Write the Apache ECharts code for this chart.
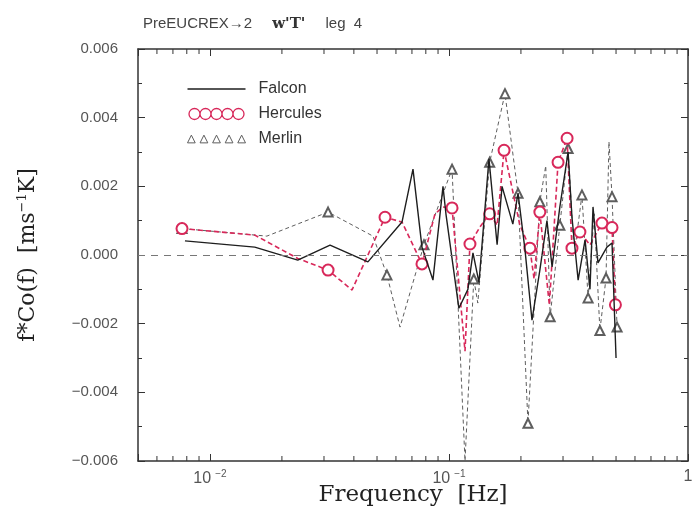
<!DOCTYPE html>
<html>
<head>
<meta charset="utf-8">
<script src="https://cdn.jsdelivr.net/npm/echarts@6/dist/echarts.min.js"></script>
<style>
  html, body { margin: 0; padding: 0; background: #fff; }
  #chart { width: 698px; height: 510px; }
</style>
</head>
<body>
<div id="chart"></div>
<script>
// Falcon (solid black)
const falconF = [0.00786, 0.0154, 0.0233, 0.0318, 0.0458, 0.0636, 0.0707, 0.0771, 0.0857, 0.0944,
  0.0971, 0.110, 0.120, 0.126, 0.1335, 0.147, 0.159, 0.1667, 0.185, 0.1945,
  0.208, 0.2225, 0.240, 0.257, 0.270, 0.291, 0.315, 0.327, 0.347, 0.371,
  0.389, 0.4005, 0.420, 0.458, 0.481, 0.500];
const falconV = [0.00041, 0.00023, -0.00015, 0.00029, -0.0002, 0.00096, 0.0025, 0.00023, -0.00073, 0.002,
  0.0012, -0.00155, -0.001, 0.00006, -0.0008, 0.0028, 0.0003, 0.002, 0.0009, 0.0018,
  0.00015, -0.0019, -0.00044, 0.001, -0.00035, 0.0014, 0.003, 0.0011, -0.00073, 0.00044,
  -0.001, 0.0014, -0.00023, 0.00023, 0.00035, -0.003];

// Hercules (red dashed, circles)
const herculesF = [0.00764, 0.0154, 0.0233, 0.0312, 0.0393, 0.054, 0.0636, 0.0771, 0.0874, 0.0944,
  0.103, 0.1167, 0.1224, 0.1349, 0.148, 0.159, 0.170, 0.198, 0.218, 0.227,
  0.240, 0.263, 0.286, 0.312, 0.327, 0.353, 0.389, 0.4365, 0.481, 0.497];
const herculesV = [0.00077, 0.00058, -0.0001, -0.00044, -0.00102, 0.0011, 0.00096, -0.00026, 0.0012, 0.0014,
  0.00137, -0.0028, 0.00032, 0.00082, 0.0012, 0.00087, 0.00305, 0.00087, 0.0002, -0.0007,
  0.00125, -0.00146, 0.0027, 0.0034, 0.0002, 0.00067, 0.00029, 0.00093, 0.0008, -0.00145];
const herculesMark = [1, 0, 0, 1, 0, 1, 0, 1, 0, 0,
  1, 0, 1, 0, 1, 0, 1, 0, 1, 0,
  1, 0, 1, 1, 1, 1, 0, 1, 1, 1];

// Merlin (gray dashed, triangles)
const merlinF = [0.00764, 0.0173, 0.0312, 0.0481, 0.055, 0.0624, 0.0786, 0.103, 0.1167, 0.127,
  0.132, 0.148, 0.1715, 0.1945, 0.214, 0.240, 0.254, 0.265, 0.291, 0.315,
  0.334, 0.36, 0.382, 0.405, 0.428, 0.454, 0.467, 0.481, 0.505];
const merlinV = [0.00077, 0.00055, 0.00125, 0.00055, -0.00058, -0.0021, 0.0003, 0.0025, -0.006, -0.0007,
  -0.0014, 0.0027, 0.0047, 0.0018, -0.0049, 0.00155, 0.0026, -0.0018, 0.00087, 0.0031,
  0.0, 0.00175, -0.00125, 0.0012, -0.0022, -0.00067, 0.0033, 0.0017, -0.0021];
const merlinMark = [1, 0, 1, 0, 1, 0, 1, 1, 0, 1,
  0, 1, 1, 1, 1, 1, 0, 1, 1, 1,
  0, 1, 1, 0, 1, 1, 0, 1, 1];

const xMin = 0.005;
const xMax = 1;
const yMin = -0.006;
const yMax = 0.006;

const RED = '#d8285a';
const GRAY = '#5e5e5e';
const BLACK = '#1e1e1e';
const AXIS = '#333';
const SANS = '"Liberation Sans", Arial, sans-serif';
const SERIF = '"DejaVu Serif", serif';

// minor tick values for the log axis (2..9 in each decade)
const minorTicks = [];
for (let e = -3; e <= 0; e++) {
  for (let k = 2; k <= 9; k++) {
    const v = k * Math.pow(10, e);
    if (v > xMin && v < xMax) minorTicks.push([v, 0]);
  }
}

const pairs = (fs, vs) => fs.map((f, i) => [f, vs[i]]);
const marked = (fs, vs, ms) => fs.map((f, i) => (ms[i] ? [f, vs[i]] : { value: [f, vs[i]], symbol: 'none' }));

const fmtY = v => {
  const s = Math.abs(v) < 1e-9 ? '0.000' : v.toFixed(3);
  return s.replace('-', '\u2212');
};
const fmtX = v => {
  const l = Math.log10(v);
  const e = Math.round(l);
  if (Math.abs(l - e) > 1e-6) return '';
  if (e === 0) return '{b|1}';
  return '{b|10}{s|\u2212' + (-e) + '}';
};

const chart = echarts.init(document.getElementById('chart'));

const circles = 'path://M0,6a6,6 0 1,0 12,0a6,6 0 1,0 -12,0M12,6a6,6 0 1,0 12,0a6,6 0 1,0 -12,0' +
  'M24,6a6,6 0 1,0 12,0a6,6 0 1,0 -12,0M36,6a6,6 0 1,0 12,0a6,6 0 1,0 -12,0' +
  'M48,6a6,6 0 1,0 12,0a6,6 0 1,0 -12,0';
const triangles = 'path://M0,10L4,2L8,10ZM13,10L17,2L21,10ZM26,10L30,2L34,10Z' +
  'M39,10L43,2L47,10ZM52,10L56,2L60,10Z';

chart.setOption({
  backgroundColor: '#fff',
  animation: false,
  title: {
    left: 138,
    top: 10,
    text: '{a|PreEUCREX\u21922}    {b|w\'T\'}    {a|leg  4}',
    textStyle: {
      fontWeight: 'normal',
      rich: {
        a: { fontFamily: SANS, fontSize: 15, fontWeight: 'normal', color: '#444' },
        b: { fontFamily: SERIF, fontSize: 15, fontWeight: 'bold', color: '#333' }
      }
    }
  },
  legend: {
    orient: 'vertical',
    left: 182,
    top: 76,
    itemWidth: 58,
    itemHeight: 11,
    itemGap: 9,
    selectedMode: false,
    textStyle: { fontFamily: SANS, fontSize: 16, color: '#333', padding: [0, 0, 0, 8] },
    data: [
      { name: 'Falcon', icon: 'path://M0,0H60V1.6H0Z', itemStyle: { color: BLACK, borderWidth: 0 } },
      { name: 'Hercules', icon: circles, itemStyle: { color: 'rgba(0,0,0,0)', borderColor: RED, borderWidth: 1.3 } },
      { name: 'Merlin', icon: triangles, itemStyle: { color: 'rgba(0,0,0,0)', borderColor: GRAY, borderWidth: 1 } }
    ]
  },
  grid: { left: 138, right: 10, top: 49, bottom: 49, outerBoundsMode: 'none' },
  xAxis: [
    {
      type: 'log',
      logBase: 10,
      min: xMin,
      max: xMax,
      name: 'Frequency  [Hz]',
      nameLocation: 'middle',
      nameGap: 23,
      nameMoveOverlap: false,
      nameTextStyle: { fontFamily: SERIF, fontSize: 23, color: '#222' },
      axisLine: { onZero: false, lineStyle: { color: AXIS, width: 1.5 } },
      axisTick: { inside: true, length: 7, lineStyle: { color: AXIS } },
      splitLine: { show: false },
      axisLabel: {
        formatter: fmtX,
        margin: 8,
        rich: {
          b: { fontFamily: SANS, fontSize: 16, color: '#555' },
          s: { fontFamily: SANS, fontSize: 10, color: '#555', padding: [0, 0, 10, 4] }
        }
      }
    },
    {
      type: 'log',
      logBase: 10,
      min: xMin,
      max: xMax,
      position: 'top',
      axisLine: { onZero: false, lineStyle: { color: AXIS, width: 1.5 } },
      axisTick: { inside: true, length: 7, lineStyle: { color: AXIS } },
      axisLabel: { show: false },
      splitLine: { show: false }
    }
  ],
  yAxis: [
    {
      type: 'value',
      min: yMin,
      max: yMax,
      interval: 0.002,
      name: '{n|f*Co(f)  [ms}{s|\u22121}{n|K]}',
      nameLocation: 'middle',
      nameGap: 98,
      nameMoveOverlap: false,
      nameTextStyle: {
        rich: {
          n: { fontFamily: SERIF, fontSize: 22, color: '#222' },
          s: { fontFamily: SERIF, fontSize: 13, color: '#222', padding: [0, 0, 11, 0] }
        }
      },
      axisLine: { show: true, onZero: false, lineStyle: { color: AXIS, width: 1.5 } },
      axisTick: { show: true, inside: true, length: 7, lineStyle: { color: AXIS } },
      minorTick: { show: true, splitNumber: 2, length: 4, lineStyle: { color: AXIS } },
      splitLine: { show: false },
      axisLabel: { formatter: fmtY, margin: 20, fontFamily: SANS, fontSize: 15, color: '#555' }
    },
    {
      type: 'value',
      min: yMin,
      max: yMax,
      interval: 0.002,
      position: 'right',
      axisLine: { show: true, onZero: false, lineStyle: { color: AXIS, width: 1.5 } },
      axisTick: { show: true, inside: true, length: 7, lineStyle: { color: AXIS } },
      minorTick: { show: true, splitNumber: 2, length: 4, lineStyle: { color: AXIS } },
      splitLine: { show: false },
      axisLabel: { show: false }
    }
  ],
  series: [
    {
      name: 'minor ticks',
      type: 'custom',
      silent: true,
      clip: false,
      data: minorTicks,
      renderItem: (params, api) => {
        const b = api.coord([api.value(0), yMin]);
        const t = api.coord([api.value(0), yMax]);
        const st = { stroke: AXIS, lineWidth: 1 };
        return {
          type: 'group',
          children: [
            { type: 'line', shape: { x1: b[0], y1: b[1], x2: b[0], y2: b[1] - 5 }, style: st },
            { type: 'line', shape: { x1: t[0], y1: t[1], x2: t[0], y2: t[1] + 5 }, style: st }
          ]
        };
      },
      z: 1
    },
    {
      name: 'Merlin',
      type: 'line',
      data: marked(merlinF, merlinV, merlinMark),
      symbol: 'emptyTriangle',
      symbolSize: 9,
      showAllSymbol: true,
      lineStyle: { color: GRAY, width: 1, type: [4, 3] },
      itemStyle: { color: GRAY, borderColor: GRAY, borderWidth: 1 },
      z: 2
    },
    {
      name: 'Hercules',
      type: 'line',
      data: marked(herculesF, herculesV, herculesMark),
      symbol: 'emptyCircle',
      symbolSize: 11,
      showAllSymbol: true,
      lineStyle: { color: RED, width: 1.6, type: [5, 3] },
      itemStyle: { color: RED, borderColor: RED, borderWidth: 1.4 },
      z: 3
    },
    {
      name: 'Falcon',
      type: 'line',
      data: pairs(falconF, falconV),
      symbol: 'none',
      lineStyle: { color: BLACK, width: 1.4 },
      markLine: {
        silent: true,
        symbol: 'none',
        label: { show: false },
        lineStyle: { color: '#777', width: 1.2, type: [7, 6] },
        data: [{ yAxis: 0 }]
      },
      z: 4
    }
  ]
});
</script>
</body>
</html>
